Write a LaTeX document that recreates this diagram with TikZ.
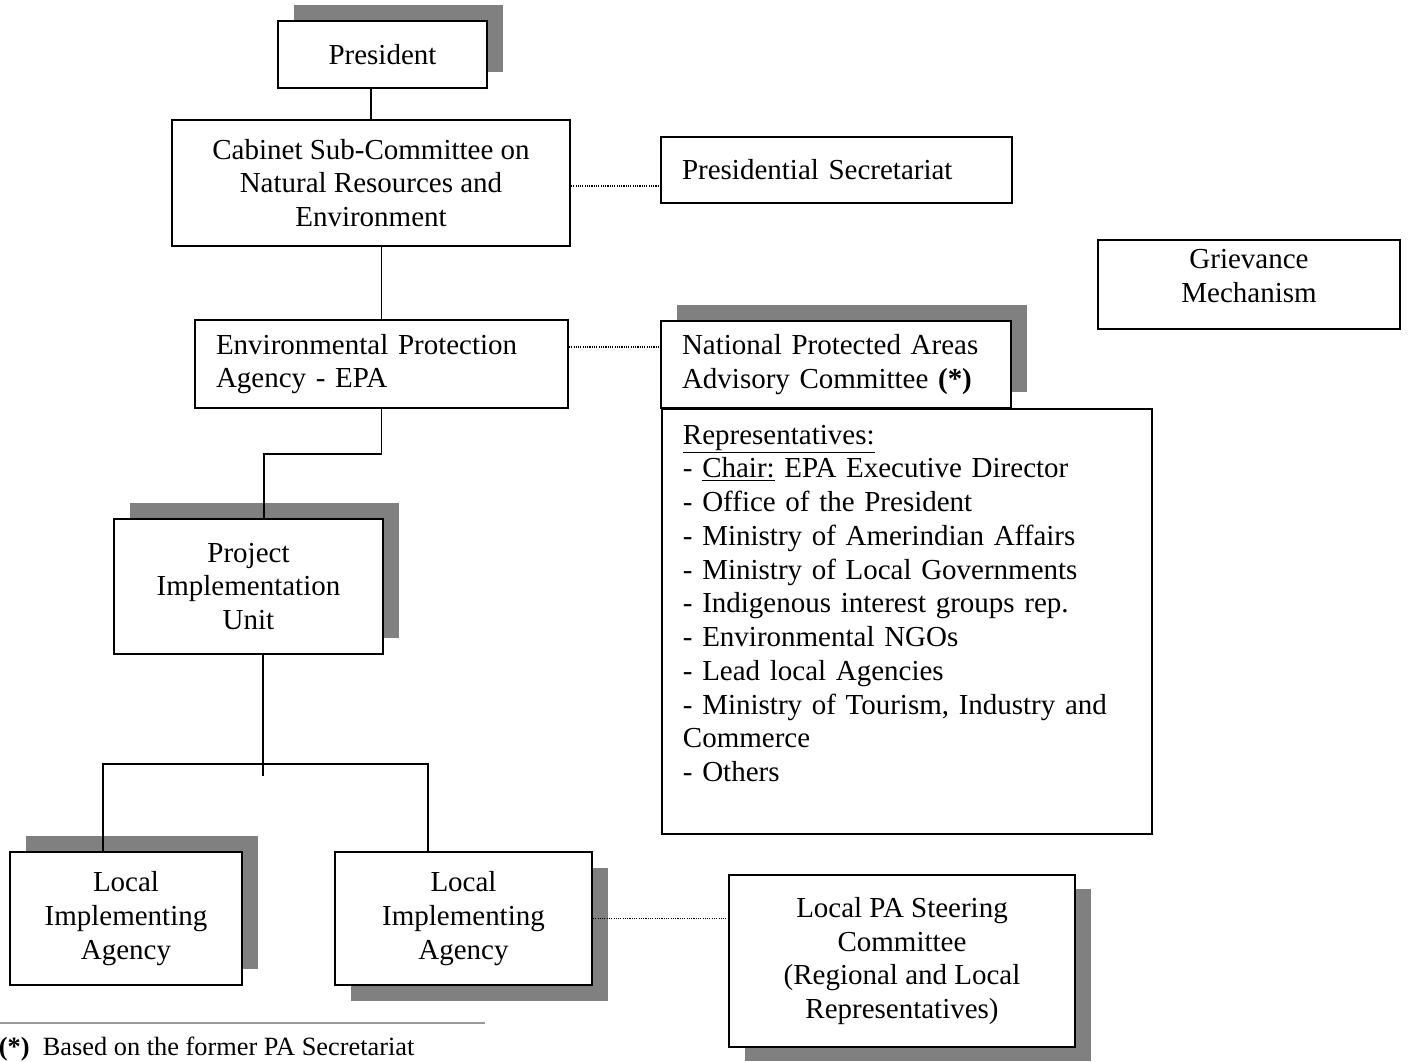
\documentclass[tikz,border=0pt]{standalone}
\usepackage{fontspec}
\setmainfont{Liberation Serif}
\usetikzlibrary{shadows}

\newcommand\und[1]{\underline{#1}}

\begin{document}
\begin{tikzpicture}[x=0.02cm, y=-0.02cm,
  font=\fontsize{16.5}{19.2}\selectfont,
  every node/.style = {shape=rectangle, draw, line width=1.1pt, fill=white, align=center, inner sep=0pt},
  upshade/.style = {drop shadow={shadow xshift=.32cm, shadow yshift=.32cm, fill=gray, opacity=1}},
  downshade/.style = {drop shadow={shadow xshift=.32cm, shadow yshift=#1, fill=gray, opacity=1}},
  downshade/.default = -.32cm,
  leftbox/.style = {align=left, inner xsep=.42cm},
  link/.style = {line width=.85pt},
  dotlink/.style = {line width=.6pt, dash pattern=on .6pt off .7pt}]
  \useasboundingbox (0,0) rectangle (1408,1061);

  \node[upshade, minimum width=4.18cm, minimum height=1.34cm] (pres) at (382.5,54.5) {President};
  \node[minimum width=7.96cm, minimum height=2.52cm] (cab) at (371,183)
    {Cabinet Sub-Committee on\\Natural Resources and\\Environment};
  \node[leftbox, text width=6.18cm, minimum height=1.32cm] (sec) at (836.5,170) {Presidential Secretariat};
  \node[minimum width=6.04cm, minimum height=1.78cm, text depth=.34cm] (griev) at (1249,284.5)
    {Grievance\\Mechanism};
  \node[leftbox, text width=6.62cm, minimum height=1.76cm] (epa) at (381.5,364)
    {Environmental Protection\\Agency - EPA};
  \node[leftbox, upshade, text width=6.16cm, minimum height=1.74cm] (npac) at (836,364.5)
    {National Protected Areas\\Advisory Committee \textbf{(*)}};
  \node[leftbox, anchor=north west, text width=8.96cm, inner ysep=.32cm, text depth=7.48cm] (reps) at (661,408)
    {\und{Representatives:}\\
     - \und{Chair:} EPA Executive Director\\
     - Office of the President\\
     - Ministry of Amerindian Affairs\\
     - Ministry of Local Governments\\
     - Indigenous interest groups rep.\\
     - Environmental NGOs\\
     - Lead local Agencies\\
     - Ministry of Tourism, Industry and\\
     Commerce\\
     - Others};
  \node[upshade, minimum width=5.38cm, minimum height=2.7cm] (piu) at (248.5,586.5)
    {Project\\Implementation\\Unit};
  \node[upshade, minimum width=4.64cm, minimum height=2.66cm] (loc1) at (126,918.5)
    {Local\\Implementing\\Agency};
  \node[downshade, minimum width=5.14cm, minimum height=2.66cm] (loc2) at (463.5,918.5)
    {Local\\Implementing\\Agency};
  \node[downshade=-.28cm, minimum width=6.92cm, minimum height=3.44cm] (steer) at (902,961)
    {Local PA Steering\\Committee\\(Regional and Local\\Representatives)};

  % solid links
  \draw[link] (cab.north) -- (cab.north |- pres.south);
  \draw[link] (epa.north) -- (epa.north |- cab.south);
  \draw[link] (epa.south) -- ++(0,45) -| ([xshift=.31cm]piu.north);
  \coordinate (fork) at (263,764);
  \draw[link] ([xshift=.29cm]piu.south) -- ++(0,121);
  \draw[link] ([xshift=-.46cm]loc1.north) |- (fork) -| ([xshift=-.71cm]loc2.north);
  % dotted links
  \draw[dotlink] ([yshift=-.06cm]cab.east) -- ([yshift=-.06cm]cab.east -| sec.west);
  \draw[dotlink] ([yshift=.34cm]epa.east) -- ([yshift=.34cm]epa.east -| npac.west);
  \draw[dotlink] (loc2.east) -- (loc2.east -| steer.west);

  % footnote
  \draw[line width=1.1pt, black!40] (0,1023) -- (485,1023);
  \node[draw=none, fill=none, anchor=base west, font=\fontsize{15}{18}\selectfont] (note) at (-2,1055)
    {\textbf{(*)}\ \ Based on the former PA Secretariat};
\end{tikzpicture}
\end{document}
